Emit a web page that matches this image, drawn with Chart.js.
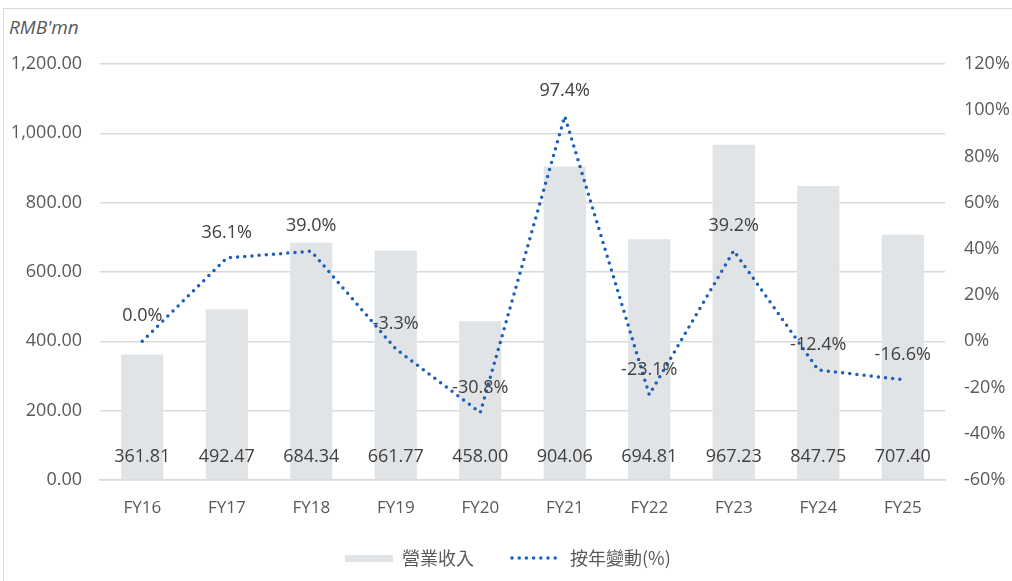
<!DOCTYPE html>
<html>
<head>
<meta charset="utf-8">
<script src="https://cdn.jsdelivr.net/npm/chart.js@4"></script>
<style>
	html, body { margin: 0; padding: 0; background: #fff; }
	#wrap { position: relative; width: 1012px; height: 581px; overflow: hidden; }
	#frame { position: absolute; left: 3px; top: 8px; width: 1020px; height: 600px; border: 1px solid #d9d9d9; box-sizing: border-box; }
	#unit { position: absolute; left: 9px; top: 14px; font: italic 19px 'Open Sans', sans-serif; color: #595959; }
	canvas { position: absolute; left: 0; top: 0; }
</style>
</head>
<body>
<div id="wrap">
	<div id="frame"></div>
	<div id="unit">RMB'mn</div>
	<canvas id="revChart" width="1012" height="581"></canvas>
</div>
<script>
const years = ['FY16', 'FY17', 'FY18', 'FY19', 'FY20', 'FY21', 'FY22', 'FY23', 'FY24', 'FY25'];
const revenue = [361.81, 492.47, 684.34, 661.77, 458.0, 904.06, 694.81, 967.23, 847.75, 707.4];
const yoyChange = [0.0, 36.1, 39.0, -3.3, -30.8, 97.4, -23.1, 39.2, -12.4, -16.6];
const legendNames = ['營業收入', '按年變動(%)'];

const textColor = '#595959';
const labelColor = '#404040';
const barColor = '#e1e4e7';
const lineColor = '#1b5fb9';
const gridColor = '#d9d9d9';
const baseFont = "'Open Sans', sans-serif";

// value labels for both series, plus the legend under the axis
const labelPlugin = {
	id: 'labels',
	afterDatasetsDraw(chart) {
		const ctx = chart.ctx;
		ctx.save();
		ctx.font = '18px ' + baseFont;
		ctx.fillStyle = labelColor;
		ctx.textAlign = 'center';
		ctx.textBaseline = 'middle';

		const points = chart.getDatasetMeta(0).data;
		const bars = chart.getDatasetMeta(1).data;
		bars.forEach((bar, i) => {
			ctx.fillText(revenue[i].toFixed(2), bar.x, chart.chartArea.bottom - 23);
		});
		points.forEach((pt, i) => {
			ctx.fillText(yoyChange[i].toFixed(1) + '%', pt.x, pt.y - 25);
		});
		ctx.restore();
	},
	afterDraw(chart) {
		const ctx = chart.ctx;
		const y = 558;
		ctx.save();
		ctx.fillStyle = barColor;
		ctx.fillRect(345, y - 3, 48, 7);

		ctx.strokeStyle = lineColor;
		ctx.lineWidth = 3.5;
		ctx.lineCap = 'round';
		ctx.setLineDash([0, 7.2]);
		ctx.beginPath();
		ctx.moveTo(512, y);
		ctx.lineTo(562, y);
		ctx.stroke();

		ctx.fillStyle = textColor;
		ctx.font = "18px 'Noto Sans CJK TC', sans-serif";
		ctx.textBaseline = 'middle';
		ctx.fillText(legendNames[0], 402, y);
		ctx.fillText(legendNames[1], 570, y);
		ctx.restore();
	}
};

const canvas = document.querySelector('#revChart');
new Chart(canvas, {
	data: {
		labels: years,
		datasets: [
			{
				type: 'line',
				label: legendNames[1],
				data: yoyChange,
				yAxisID: 'y1',
				borderColor: lineColor,
				borderWidth: 3.5,
				borderDash: [0, 7.2],
				borderCapStyle: 'round',
				pointRadius: 0,
				tension: 0,
				fill: false,
				order: 0,
			},
			{
				type: 'bar',
				label: legendNames[0],
				data: revenue,
				yAxisID: 'y',
				backgroundColor: barColor,
				barPercentage: 0.5,
				categoryPercentage: 1,
				order: 1,
			},
		],
	},
	options: {
		responsive: false,
		animation: false,
		layout: { padding: { top: 64, left: 0, right: 0, bottom: 0 } },
		plugins: {
			legend: { display: false },
			tooltip: { enabled: false },
		},
		scales: {
			x: {
				grid: { display: false, drawTicks: false },
				border: { color: gridColor, width: 1.5 },
				ticks: { color: textColor, font: { family: baseFont, size: 17 }, padding: 18 },
				afterFit(scale) { scale.height = 101; },
			},
			y: {
				position: 'left',
				min: 0,
				max: 1200,
				grid: { color: gridColor, lineWidth: 1.5, drawTicks: false },
				border: { display: false },
				ticks: {
					stepSize: 200,
					color: textColor,
					font: { family: baseFont, size: 18 },
					padding: 18,
					callback: (v) => v.toLocaleString('en-US', { minimumFractionDigits: 2, maximumFractionDigits: 2 }),
				},
				afterFit(scale) { scale.width = 100; },
			},
			y1: {
				position: 'right',
				min: -60,
				max: 120,
				grid: { display: false, drawTicks: false },
				border: { display: false },
				ticks: {
					stepSize: 20,
					color: textColor,
					font: { family: baseFont, size: 18 },
					padding: 19,
					callback: (v) => v + '%',
				},
				afterFit(scale) { scale.width = 67; },
			},
		},
	},
	plugins: [labelPlugin],
});
</script>
</body>
</html>
